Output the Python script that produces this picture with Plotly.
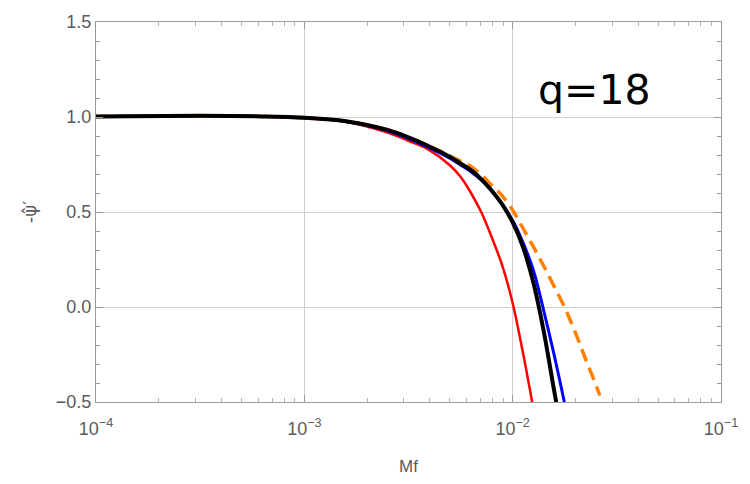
import plotly.graph_objects as go

# Data (Mf values, -psi' values)
black_x = [1e-4, 3.16e-4, 6.31e-4, 1e-3, 1.58e-3, 2.51e-3, 3.16e-3, 3.98e-3, 5.01e-3, 5.62e-3, 6.31e-3, 7.08e-3, 7.94e-3, 8.91e-3, 0.0100, 0.0112, 0.0126, 0.0141, 0.0158, 0.01618]
black_y = [1.003, 1.006, 1.003, 0.996, 0.978, 0.932, 0.893, 0.845, 0.79, 0.755, 0.72, 0.672, 0.612, 0.54, 0.445, 0.317, 0.124, -0.128, -0.438, -0.5]

blue_x = [1e-4, 3.16e-4, 6.31e-4, 1e-3, 1.58e-3, 2.51e-3, 3.16e-3, 3.98e-3, 5.01e-3, 5.62e-3, 6.31e-3, 7.08e-3, 7.94e-3, 8.91e-3, 0.0100, 0.0112, 0.0126, 0.0141, 0.0158, 0.0177]
blue_y = [1.003, 1.006, 1.003, 0.996, 0.976, 0.927, 0.886, 0.837, 0.782, 0.748, 0.712, 0.667, 0.61, 0.54, 0.455, 0.34, 0.19, -0.02, -0.25, -0.5]

red_x = [1e-4, 3.16e-4, 6.31e-4, 1e-3, 1.58e-3, 2.51e-3, 3.16e-3, 3.98e-3, 5.01e-3, 5.62e-3, 6.31e-3, 7.08e-3, 7.94e-3, 8.91e-3, 0.0100, 0.0112, 0.0124]
red_y = [1.003, 1.004, 1.001, 0.993, 0.975, 0.918, 0.875, 0.826, 0.745, 0.685, 0.60, 0.497, 0.366, 0.219, 0.02, -0.24, -0.5]

orange_x = [1e-4, 3.16e-4, 6.31e-4, 1e-3, 1.58e-3, 2.51e-3, 3.16e-3, 3.98e-3, 5.01e-3, 5.62e-3, 6.31e-3, 7.08e-3, 7.94e-3, 8.91e-3, 0.0100, 0.0112, 0.0126, 0.0141, 0.0158, 0.0178, 0.0200, 0.0224, 0.0251, 0.0262]
orange_y = [1.003, 1.006, 1.003, 0.996, 0.978, 0.932, 0.893, 0.847, 0.795, 0.768, 0.74, 0.695, 0.64, 0.585, 0.51, 0.415, 0.315, 0.215, 0.11, -0.005, -0.135, -0.275, -0.41, -0.466]

x_tickvals = [1e-4, 1e-3, 1e-2, 1e-1]
x_ticktext = ["10<sup>−4</sup>", "10<sup>−3</sup>", "10<sup>−2</sup>", "10<sup>−1</sup>"]
y_tickvals = [-0.5, 0.0, 0.5, 1.0, 1.5]
y_ticktext = ["−0.5", "0.0", "0.5", "1.0", "1.5"]

# minor tick positions on the log axis: 2..9 within each decade
x_minor = [m * d for d in x_tickvals[:-1] for m in range(2, 10)]

fig = go.Figure()
fig.add_trace(go.Scatter(x=red_x, y=red_y, mode="lines", line=dict(color="#FF0000", width=2.5, shape="spline", smoothing=1.0), showlegend=False))
fig.add_trace(go.Scatter(x=blue_x, y=blue_y, mode="lines", line=dict(color="#0000FF", width=3, shape="spline", smoothing=1.0), showlegend=False))
fig.add_trace(go.Scatter(x=orange_x, y=orange_y, mode="lines", line=dict(color="#FF8000", width=3.5, dash="13px,7px", shape="spline", smoothing=1.0), showlegend=False))
fig.add_trace(go.Scatter(x=black_x, y=black_y, mode="lines", line=dict(color="#000000", width=4, shape="spline", smoothing=1.0), showlegend=False))

axis_font = dict(family="Liberation Sans, Arial, sans-serif", size=18, color="#5a5a5a")

fig.update_layout(
    width=750, height=484,
    margin=dict(l=96, r=25, t=13, b=82),
    paper_bgcolor="white", plot_bgcolor="white",
    xaxis=dict(
        type="log", range=[-4, -1],
        tickvals=x_tickvals, ticktext=x_ticktext,
        tickfont=axis_font, ticklabelstandoff=10,
        showgrid=True, gridcolor="#cfcfcf", gridwidth=1,
        showline=True, linecolor="#9a9a9a", linewidth=1, mirror="allticks",
        ticks="inside", ticklen=7, tickcolor="#9a9a9a",
        minor=dict(tickvals=x_minor, ticks="inside", ticklen=4, tickcolor="#b0b0b0", showgrid=False),
        zeroline=False,
        title=dict(text="Mf", font=dict(family="Liberation Sans, Arial, sans-serif", size=17, color="#5a5a5a"), standoff=22),
    ),
    yaxis=dict(
        range=[-0.5, 1.5],
        tickvals=y_tickvals, ticktext=y_ticktext,
        tickfont=axis_font,
        showgrid=True, gridcolor="#cfcfcf", gridwidth=1,
        showline=True, linecolor="#9a9a9a", linewidth=1, mirror="allticks",
        ticks="inside", ticklen=7, tickcolor="#9a9a9a",
        minor=dict(dtick=0.1, ticks="inside", ticklen=4, tickcolor="#9a9a9a", showgrid=False),
        zeroline=False,
        title=dict(text="-ψ̂′", font=dict(family="DejaVu Sans, sans-serif", size=18, color="#5a5a5a"), standoff=14),
    ),
    annotations=[dict(
        text="q=18", xref="paper", yref="paper", x=0.798, y=0.822,
        xanchor="center", yanchor="middle", showarrow=False,
        font=dict(family="DejaVu Sans, sans-serif", size=41, color="black"),
    )],
)

fig.write_html("out.html")
